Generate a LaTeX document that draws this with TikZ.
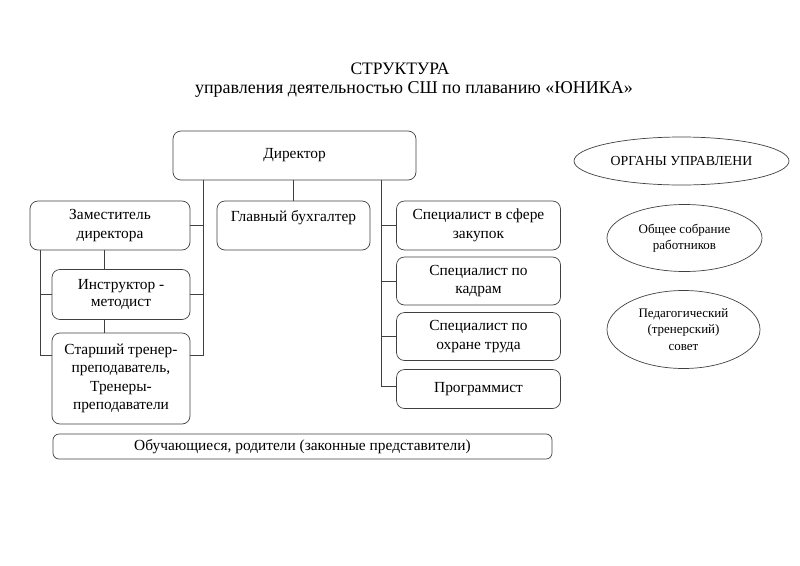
\documentclass[tikz,border=0pt]{standalone}
\usepackage{fontspec}
\setmainfont{Liberation Serif}
\usetikzlibrary{shapes.geometric}
\begin{document}
\begin{tikzpicture}[x=1pt, y=-1pt,
                    box/.style={rectangle, rounded corners=8pt, draw=black!75, line width=0.7pt, inner sep=0pt, align=center, font=\fontsize{15.4}{18.5}\selectfont},
                    oval/.style={ellipse, draw=black!75, line width=0.7pt, inner sep=0pt, align=center, font=\fontsize{13}{16.5}\selectfont},
                    line/.style={draw=black!75, line width=0.7pt}]
                \useasboundingbox (0,0) rectangle (800,565);
                
                \node [font=\fontsize{17.5}{20}\selectfont] (T1) at (400,69) {СТРУКТУРА};
                \node [font=\fontsize{18}{20}\selectfont] (T2) at (414,89) {управления деятельностью СШ по плаванию «ЮНИКА»};
                
                \node [box, minimum width=243, minimum height=49] (DIR) at (294.5,155.5) {Директор};
                \node [box, minimum width=160, minimum height=49] (ZAM) at (110,225.5) {Заместитель\\директора};
                \node [box, minimum width=153, minimum height=49] (BUH) at (293.5,225.5) {Главный бухгалтер\\\mbox{}};
                \node [box, minimum width=138, minimum height=50, font=\fontsize{15.4}{17}\selectfont] (INS) at (121,294.5) {Инструктор -\\методист};
                \node [box, minimum width=138, minimum height=91] (STR) at (121,378.5) {Старший тренер-\\преподаватель,\\Тренеры-\\преподаватели};
                
                \node [box, minimum width=164, minimum height=49] (SPA) at (478.5,225.5) {Специалист в сфере\\закупок};
                \node [box, minimum width=164, minimum height=48] (SPB) at (478.5,281) {Специалист по\\кадрам};
                \node [box, minimum width=164, minimum height=48] (SPC) at (478.5,336.5) {Специалист по\\охране труда};
                \node [box, minimum width=164, minimum height=39] (SPD) at (478.5,389) {Программист};
                
                \node [box, rounded corners=6pt, minimum width=499, minimum height=25] (OBU) at (302.5,446.5) {Обучающиеся, родители (законные представители)};
                
                \node [oval, minimum width=215, minimum height=48, font=\fontsize{13.8}{16}\selectfont] (ORG) at (681.5,161) {ОРГАНЫ УПРАВЛЕНИ};
                \node [oval, minimum width=155, minimum height=67] (SOB) at (684.5,238) {Общее собрание\\работников};
                \node [oval, minimum width=153, minimum height=78] (PED) at (683.5,329.5) {Педагогический\\(тренерский)\\совет};
                
                \coordinate (LS) at (203,0);
                \coordinate (LO) at (40,0);
                \coordinate (LM) at (104,0);
                \coordinate (RS) at (381.5,0);
                
                \draw [line] (DIR.south -| BUH.north) -- (BUH.north);
                \draw [line] (DIR.south -| LS) |- (ZAM.east);
                \draw [line] (DIR.south -| LS) |- (INS.east);
                \draw [line] (DIR.south -| LS) |- ([yshift=23.5pt]STR.east);
                \draw [line] (ZAM.south -| LO) |- (INS.west);
                \draw [line] (ZAM.south -| LO) |- ([yshift=23.5pt]STR.west);
                \draw [line] (ZAM.south -| LM) -- (INS.north -| LM);
                \draw [line] (INS.south -| LM) -- (STR.north -| LM);
                
                \draw [line] (DIR.south -| RS) |- (SPA.west);
                \draw [line] (DIR.south -| RS) |- (SPB.west);
                \draw [line] (DIR.south -| RS) |- (SPC.west);
                \draw [line] (DIR.south -| RS) |- ([yshift=2.3pt]SPD.west);
            \end{tikzpicture}
\end{document}
